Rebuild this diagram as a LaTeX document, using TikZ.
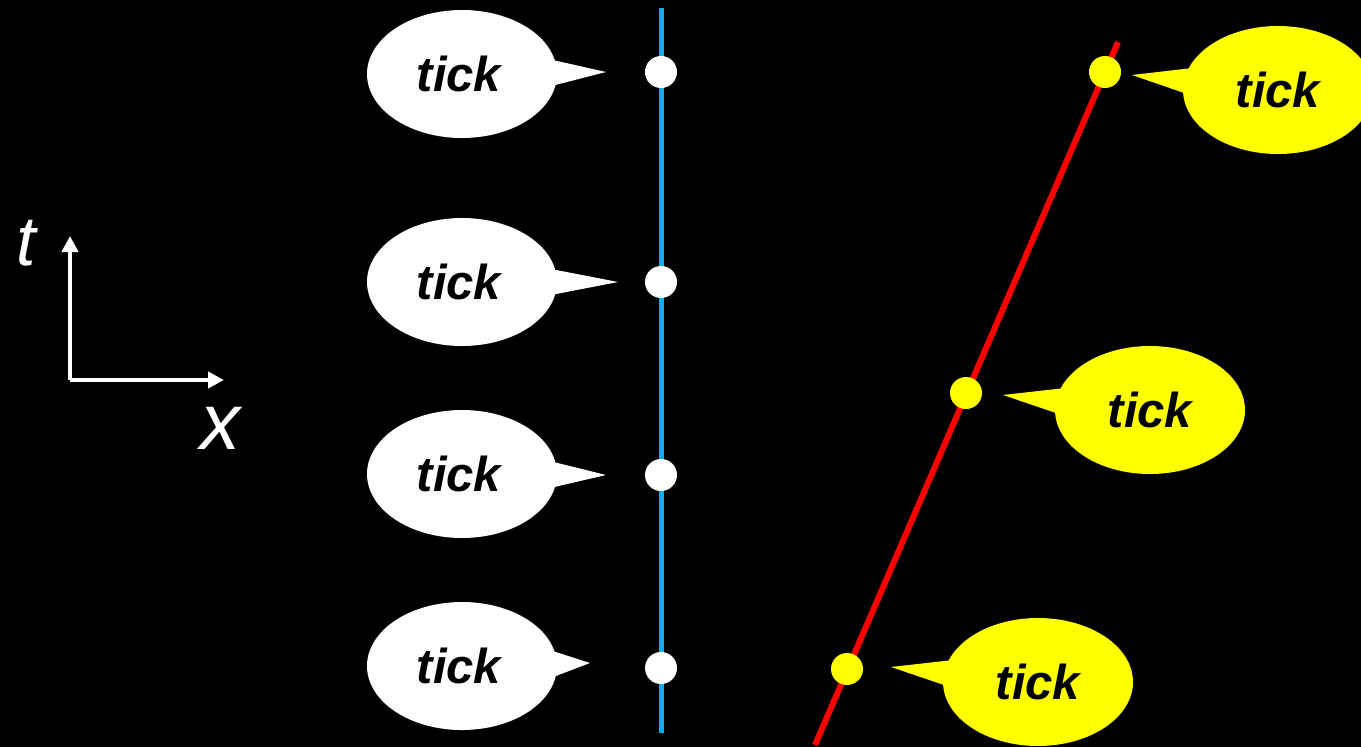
\documentclass[tikz,border=0pt]{standalone}
\usepackage{fontspec}
\setsansfont{Liberation Sans}
\usetikzlibrary{shapes.callouts,arrows.meta}

\definecolor{worldline}{RGB}{0,176,240}
\definecolor{tickyellow}{RGB}{255,255,0}

\tikzset{
	tickbox/.style={ellipse callout, fill=#1, minimum width=190pt, minimum height=128pt,
		inner sep=0pt, callout pointer arc=22,
		font=\fontsize{49}{55}\selectfont\sffamily\bfseries\itshape},
	tickdot/.style={circle, fill=#1, minimum size=32pt, inner sep=0pt},
	axislabel/.style={text=white, font=\fontsize{#1}{#1}\selectfont\sffamily\itshape},
	axisarrow/.style={white, line width=4.5pt, -{Triangle[length=16pt,width=16pt]}}
}

\begin{document}
\begin{tikzpicture}[x=1pt,y=-1pt]
	\fill[black] (0,0) rectangle (1361,747);
	\useasboundingbox (0,0) rectangle (1361,747);

	% axes
	\coordinate (o) at (70,380);
	\coordinate (tend) at (70,236);
	\coordinate (xend) at (224,380);
	\draw[axisarrow] (o) -- (tend);
	\draw[axisarrow] (o) -- (xend);
	\node[axislabel=70] (tl) at (26,243) {t};
	\node[axislabel=80] (xl) at (220,428) {x};

	% world lines
	\coordinate (b0) at (661,8);
	\coordinate (b1) at (661,733);
	\coordinate (r0) at (815,745);
	\coordinate (r1) at (1118,42);
	\draw[worldline, line width=5pt] (b0) -- (b1);
	\draw[red, line width=6pt] (r0) -- (r1);

	% ticks at rest
	\node[tickdot=white] (w1) at (661,72) {};
	\node[tickdot=white] (w2) at (661,282) {};
	\node[tickdot=white] (w3) at (661,475) {};
	\node[tickdot=white] (w4) at (661,668) {};
	\node[tickbox=white, callout absolute pointer={(606,72)}] (tw1) at (462,74) {tick\hspace*{6pt}};
	\node[tickbox=white, callout absolute pointer={(618,282)}] (tw2) at (462,282) {tick\hspace*{6pt}};
	\node[tickbox=white, callout absolute pointer={(606,475)}] (tw3) at (462,474) {tick\hspace*{6pt}};
	\node[tickbox=white, callout absolute pointer={(590,663)}] (tw4) at (462,666) {tick\hspace*{6pt}};

	% moving ticks
	\node[tickdot=tickyellow] (y1) at (1105,72) {};
	\node[tickdot=tickyellow] (y2) at (966,393) {};
	\node[tickdot=tickyellow] (y3) at (847,669) {};
	\node[tickbox=tickyellow, callout absolute pointer={(1132,75)}] (ty1) at (1278,90) {tick};
	\node[tickbox=tickyellow, callout absolute pointer={(1003,395)}] (ty2) at (1150,410) {tick};
	\node[tickbox=tickyellow, callout absolute pointer={(891,667)}] (ty3) at (1038,682) {tick};
\end{tikzpicture}
\end{document}
